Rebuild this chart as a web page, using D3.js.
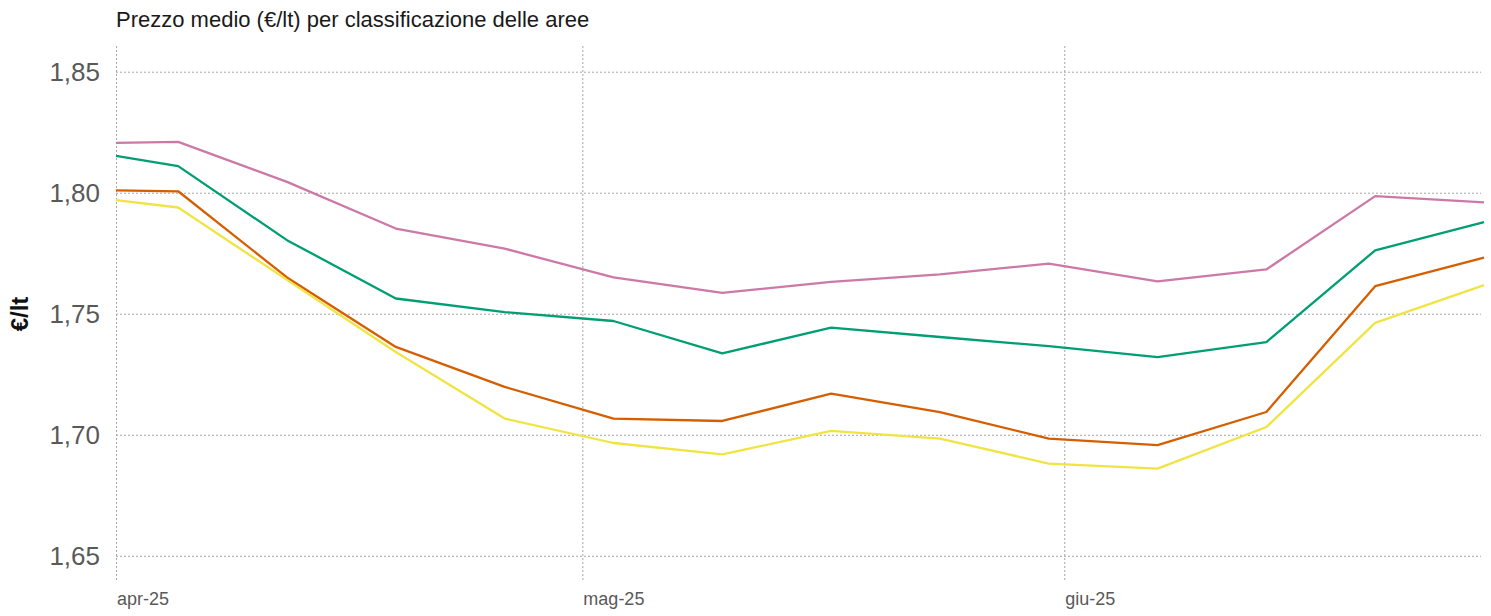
<!DOCTYPE html>
<html>
<head>
<meta charset="utf-8">
<script src="https://cdn.jsdelivr.net/npm/d3@7"></script>
<style>
  html, body { margin: 0; padding: 0; background: #ffffff; }
  svg { display: block; font-family: "Liberation Sans", Arial, sans-serif; }
</style>
</head>
<body>
<svg id="chart" width="1491" height="616"></svg>
<script>
// ---- data ----
const dates = ["2025-04-01","2025-04-05","2025-04-12","2025-04-19","2025-04-26","2025-05-03","2025-05-10","2025-05-17","2025-05-24","2025-05-31","2025-06-07","2025-06-14","2025-06-21","2025-06-28"];
const seriesNames = ["Area A", "Area B", "Area C", "Area D"];
const seriesA = [1.8206, 1.8210, 1.8045, 1.7852, 1.7769, 1.7650, 1.7586, 1.7632, 1.7663, 1.7707, 1.7634, 1.7683, 1.7986, 1.7960];
const seriesB = [1.8152, 1.8110, 1.7804, 1.7563, 1.7507, 1.7470, 1.7336, 1.7443, 1.7404, 1.7366, 1.7321, 1.7383, 1.7762, 1.7879];
const seriesC = [1.8010, 1.8006, 1.7650, 1.7363, 1.7198, 1.7067, 1.7057, 1.7170, 1.7094, 1.6984, 1.6957, 1.7094, 1.7614, 1.7732];
const seriesD = [1.7969, 1.7939, 1.7640, 1.7342, 1.7067, 1.6966, 1.6919, 1.7016, 1.6984, 1.6881, 1.6860, 1.7032, 1.7462, 1.7618];
const yTicks = [1.65, 1.70, 1.75, 1.80, 1.85];
const xTickDates = ["2025-04-01", "2025-05-01", "2025-06-01"];
const xTickLabels = ["apr-25", "mag-25", "giu-25"];
const title = "Prezzo medio (€/lt) per classificazione delle aree";
const yTitle = "€/lt";

// ---- setup ----
const parse = d3.utcParse("%Y-%m-%d");
const colors = ["#CC79A7", "#009E73", "#D55E00", "#F0E442"];
const allSeries = [seriesA, seriesB, seriesC, seriesD];

const svg = d3.select("#chart");
const x = d3.scaleUtc()
  .domain([parse("2025-04-01"), parse("2025-06-28")])
  .range([116, 1484]);
const y = d3.scaleLinear()
  .domain([1.64, 1.86])
  .range([580, 47.5]);

const itLocale = d3.formatLocale({decimal: ",", thousands: ".", grouping: [3], currency: ["€", ""]});
const fmt = itLocale.format(".2f");

// horizontal gridlines
svg.append("g")
  .attr("transform", `translate(${x.range()[0]},0)`)
  .call(d3.axisLeft(y).tickValues(yTicks).tickSize(-(1481 - x.range()[0])).tickFormat(""))
  .call(g => g.select(".domain").remove())
  .call(g => g.selectAll(".tick line")
    .attr("stroke", "#a6a6a6").attr("stroke-width", 1).attr("stroke-dasharray", "2,2"));

// vertical gridlines
svg.append("g")
  .attr("transform", `translate(0,${y.range()[0]})`)
  .call(d3.axisBottom(x).tickValues(xTickDates.map(parse)).tickSize(-(y.range()[0] - 45)).tickFormat(""))
  .call(g => g.select(".domain").remove())
  .call(g => g.selectAll(".tick line")
    .attr("stroke", "#a6a6a6").attr("stroke-width", 1).attr("stroke-dasharray", "2,2"));

// y labels
svg.append("g")
  .selectAll("text")
  .data(yTicks)
  .join("text")
  .attr("x", 100)
  .attr("y", d => y(d))
  .attr("dy", "0.36em")
  .attr("text-anchor", "end")
  .attr("font-size", 26)
  .attr("fill", "#595959")
  .text(d => fmt(d));

// x labels
svg.append("g")
  .selectAll("text")
  .data(xTickDates)
  .join("text")
  .attr("x", d => x(parse(d)) + 1)
  .attr("y", 605)
  .attr("text-anchor", "start")
  .attr("font-size", 18)
  .attr("fill", "#595959")
  .text((d, i) => xTickLabels[i]);

// y title
svg.append("text")
  .attr("transform", `translate(28,314) rotate(-90)`)
  .attr("text-anchor", "middle")
  .attr("font-size", 24)
  .attr("font-weight", "bold")
  .attr("fill", "#111")
  .text(yTitle);

// title
svg.append("text")
  .attr("x", 116)
  .attr("y", 27)
  .attr("font-size", 22)
  .attr("fill", "#1a1a1a")
  .text(title);

// lines
const line = d3.line()
  .x((d, i) => x(parse(dates[i])))
  .y(d => y(d));

svg.append("g")
  .selectAll("path")
  .data(allSeries)
  .join("path")
  .attr("fill", "none")
  .attr("stroke", (d, i) => colors[i])
  .attr("stroke-width", 2.3)
  .attr("stroke-linejoin", "round")
  .attr("d", line);
</script>
</body>
</html>
